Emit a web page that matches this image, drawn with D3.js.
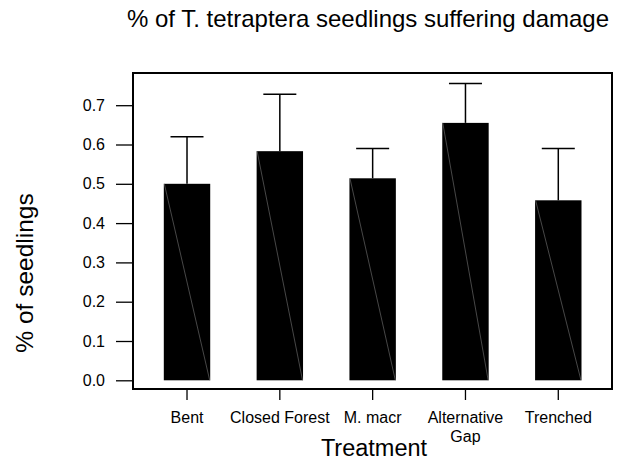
<!DOCTYPE html>
<html>
<head>
<meta charset="utf-8">
<script src="https://cdn.jsdelivr.net/npm/d3@7"></script>
<style>
body { margin: 0; background: #fff; }
text { font-family: "Liberation Sans", Arial, sans-serif; fill: #000; }
</style>
</head>
<body>
<script>
var treatments = ["Bent", "Closed Forest", "M. macr", "Alternative Gap", "Trenched"];
var labelLines = [["Bent"], ["Closed Forest"], ["M. macr"], ["Alternative", "Gap"], ["Trenched"]];
var means = [0.500, 0.583, 0.514, 0.655, 0.458];
var upper = [0.620, 0.728, 0.590, 0.755, 0.590];
var yTicks = [0.0, 0.1, 0.2, 0.3, 0.4, 0.5, 0.6, 0.7];

var width = 627, height = 462;
var box = {left: 133, right: 612, top: 73, bottom: 389};

var svg = d3.select("body").append("svg")
	.attr("width", width).attr("height", height);

var x = d3.scaleBand().domain(treatments)
	.range([140.6, 604.7]).paddingInner(0.5).paddingOuter(0.25);
var y = d3.scaleLinear().domain([0, 0.7]).range([380.3, 105.2]);

// bars
var bars = svg.selectAll(".bar").data(treatments).enter().append("g").attr("class", "bar");
bars.append("rect")
	.attr("x", function(d){ return x(d); })
	.attr("y", function(d, i){ return y(means[i]); })
	.attr("width", x.bandwidth())
	.attr("height", function(d, i){ return y(0) - y(means[i]); })
	.attr("fill", "#000");
// faint diagonal seam seen inside each bar
bars.append("line")
	.attr("x1", function(d){ return x(d) + 0.5; })
	.attr("y1", function(d, i){ return y(means[i]); })
	.attr("x2", function(d){ return x(d) + x.bandwidth() - 0.5; })
	.attr("y2", y(0))
	.attr("stroke", "#777").attr("stroke-width", 0.6);

// error bars (upper only)
bars.append("line")
	.attr("x1", function(d){ return x(d) + x.bandwidth()/2; })
	.attr("x2", function(d){ return x(d) + x.bandwidth()/2; })
	.attr("y1", function(d, i){ return y(means[i]); })
	.attr("y2", function(d, i){ return y(upper[i]); })
	.attr("stroke", "#000").attr("stroke-width", 1.5);
bars.append("line")
	.attr("x1", function(d){ return x(d) + x.bandwidth()/2 - 16.5; })
	.attr("x2", function(d){ return x(d) + x.bandwidth()/2 + 16.5; })
	.attr("y1", function(d, i){ return y(upper[i]); })
	.attr("y2", function(d, i){ return y(upper[i]); })
	.attr("stroke", "#000").attr("stroke-width", 1.5);

// frame
svg.append("rect")
	.attr("x", box.left).attr("y", box.top)
	.attr("width", box.right - box.left).attr("height", box.bottom - box.top)
	.attr("fill", "none").attr("stroke", "#000").attr("stroke-width", 2);

// y axis
var yAxis = d3.axisLeft(y).tickValues(yTicks).tickFormat(d3.format(".1f"))
	.tickSize(17).tickPadding(11);
var gy = svg.append("g").attr("transform", "translate(" + box.left + ",0)").call(yAxis);
gy.attr("font-size", null).attr("font-family", null);
gy.select(".domain").remove();
gy.selectAll(".tick line").attr("stroke-width", 1.3);
gy.selectAll("text").style("font-size", "16px");

// x axis
var xAxis = d3.axisBottom(x).tickSize(11).tickFormat("");
var gx = svg.append("g").attr("transform", "translate(0," + box.bottom + ")").call(xAxis);
gx.select(".domain").remove();
gx.selectAll(".tick line").attr("stroke-width", 1.3);

svg.selectAll(".xlab").data(treatments).enter().append("text")
	.attr("class", "xlab")
	.attr("text-anchor", "middle")
	.style("font-size", "16px")
	.attr("transform", function(d){ return "translate(" + (x(d) + x.bandwidth()/2) + ",423)"; })
	.selectAll("tspan").data(function(d, i){ return labelLines[i]; })
	.enter().append("tspan")
	.attr("x", 0).attr("dy", function(d, j){ return j === 0 ? 0 : 18.5; })
	.text(function(d){ return d; });

// titles
svg.append("text").attr("x", 368).attr("y", 27).attr("text-anchor", "middle")
	.style("font-size", "24px").text("% of T. tetraptera seedlings suffering damage");
svg.append("text").attr("x", 374).attr("y", 456).attr("text-anchor", "middle")
	.style("font-size", "23.5px").text("Treatment");
svg.append("text").attr("transform", "translate(33,273) rotate(-90)").attr("text-anchor", "middle")
	.style("font-size", "24.5px").text("% of seedlings");
</script>
</body>
</html>
